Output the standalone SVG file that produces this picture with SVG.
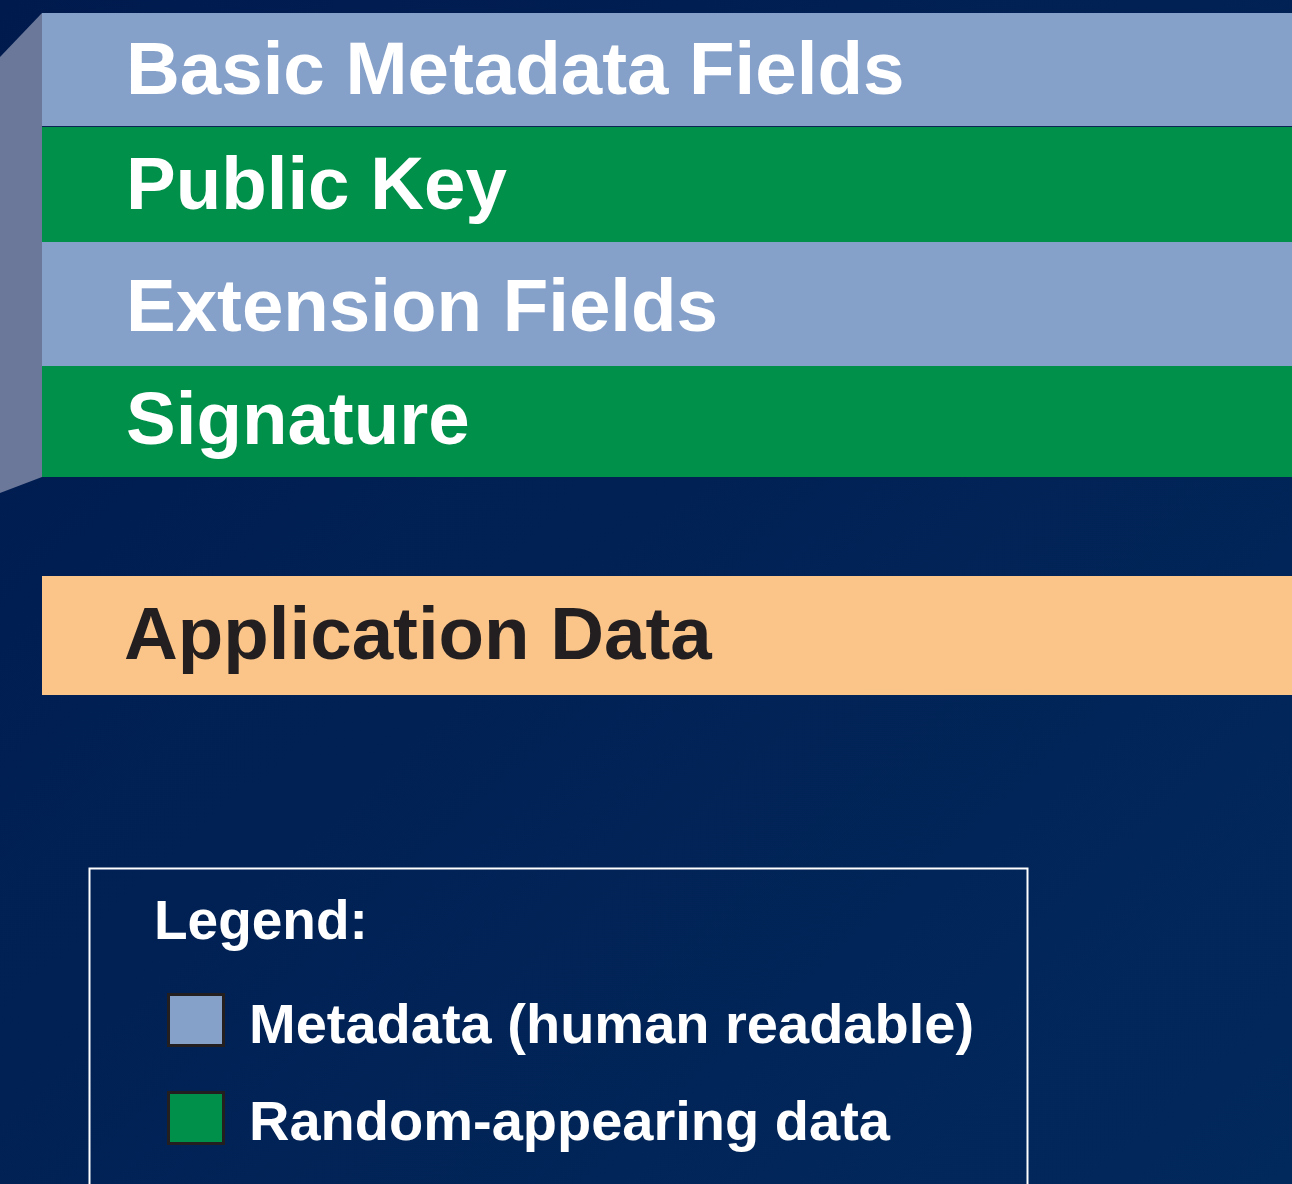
<svg xmlns="http://www.w3.org/2000/svg" width="1292" height="1184" viewBox="0 0 1292 1184">
<defs>
<linearGradient id="bg" x1="0" y1="0" x2="1" y2="1">
<stop offset="0" stop-color="#001a4e"/>
<stop offset="1" stop-color="#02295c"/>
</linearGradient>
<style>
.lbl{font-family:"Liberation Sans",Arial,sans-serif;font-weight:bold;font-size:74.5px;fill:#ffffff}
.dark{fill:#231f20}
.meta{fill:#86a1c9}
.rand{fill:#00904a}
.leg{font-family:"Liberation Sans",Arial,sans-serif;font-weight:bold;fill:#ffffff}
.sw{stroke:#231f20;stroke-width:3}
</style>
</defs>
<rect width="1292" height="1184" fill="url(#bg)"/>
<g id="side">
<polygon points="42,13 42,477 0,493 0,57" fill="#6b7899"/>
</g>
<g id="basic-metadata">
<rect class="meta" x="42" y="13" width="1250" height="113"/>
<text class="lbl" x="126" y="94">Basic Metadata Fields</text>
</g>
<rect x="42" y="126" width="1250" height="1.2" fill="#0a2456"/>
<g id="public-key">
<rect class="rand" x="42" y="127" width="1250" height="115"/>
<text class="lbl" x="126" y="209">Public Key</text>
</g>
<g id="extension-fields">
<rect class="meta" x="42" y="242" width="1250" height="124"/>
<text class="lbl" x="126" y="331">Extension Fields</text>
</g>
<g id="signature">
<rect class="rand" x="42" y="366" width="1250" height="111"/>
<text class="lbl" x="126" y="444">Signature</text>
</g>
<g id="application-data">
<rect x="42" y="576" width="1250" height="119" fill="#fbc589"/>
<text class="lbl dark" x="124" y="659">Application Data</text>
</g>
<g id="legend">
<rect x="89.5" y="868.5" width="938" height="330" fill="none" stroke="#ffffff" stroke-width="2"/>
<text class="leg" x="154" y="939" font-size="55">Legend:</text>
<rect class="meta sw" x="168.5" y="994.5" width="55" height="51"/>
<text class="leg" x="249" y="1043" font-size="56">Metadata (human readable)</text>
<rect class="rand sw" x="168.5" y="1092.5" width="55" height="51"/>
<text class="leg" x="249" y="1140" font-size="56">Random-appearing data</text>
</g>
</svg>
